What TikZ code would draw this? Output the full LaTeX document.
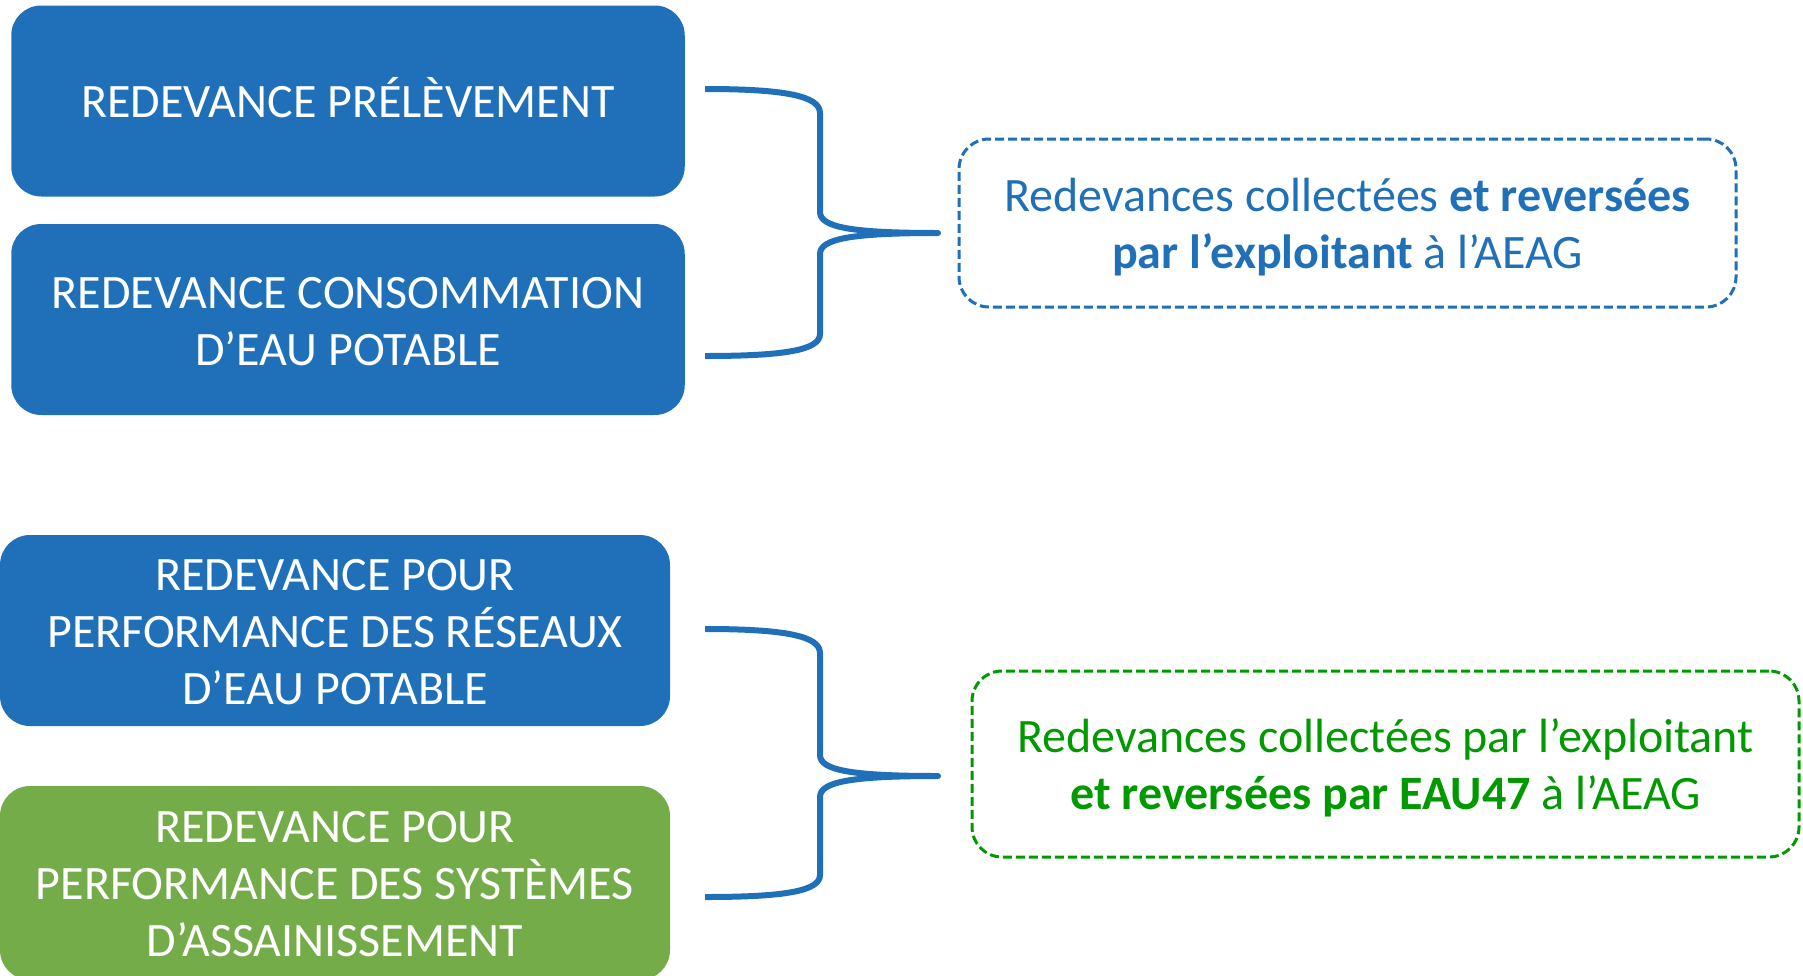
\documentclass[tikz,border=0pt]{standalone}
\usepackage{fontspec}
\setmainfont{Carlito}
\definecolor{boxblue}{HTML}{1F70B8}
\definecolor{boxgreen}{HTML}{74AC4A}
\definecolor{txtgreen}{HTML}{009A00}
\tikzset{
  solidbox/.style={rounded corners=15pt, inner sep=0pt},
  boxtext/.style={inner sep=0pt, align=center, font=\fontsize{24}{28.5}\selectfont},
  dashbox/.style={rounded corners=15pt, draw, line width=1.5pt, dash pattern=on 4.5pt off 2pt,
    fill=white, inner sep=0pt},
  brace/.style={draw=boxblue, line width=3pt, line join=round}
}
\begin{document}
\begin{tikzpicture}[x=0.5pt,y=-0.5pt]
\useasboundingbox (0,0) rectangle (1803,975);
\clip (0,0) rectangle (1803,975);
% left boxes
\node[solidbox, fill=boxblue, minimum width=336.75pt, minimum height=95.5pt] (prel) at (348,101) {};
\node[boxtext, text=white] (prel-t) at (348,97.5) {REDEVANCE PRÉLÈVEMENT};
\node[solidbox, fill=boxblue, minimum width=336.75pt, minimum height=95.5pt] (cons) at (348,319.5) {};
\node[boxtext, text=white] (cons-t) at (348,321.2) {REDEVANCE CONSOMMATION\\D’EAU POTABLE};
\node[solidbox, fill=boxblue, minimum width=335pt, minimum height=95.5pt] (res) at (335,630.5) {};
\node[boxtext, text=white] (res-t) at (335,632) {REDEVANCE POUR\\PERFORMANCE DES RÉSEAUX\\D’EAU POTABLE};
\node[solidbox, fill=boxgreen, minimum width=335pt, minimum height=97pt] (ass) at (335,883) {};
\node[boxtext, text=white] (ass-t) at (335,884) {REDEVANCE POUR\\PERFORMANCE DES SYSTÈMES\\D’ASSAINISSEMENT};
% right boxes
\node[dashbox, draw=boxblue, minimum width=388.5pt, minimum height=84pt] (rv1) at (1347.5,223) {};
\node[boxtext, text=boxblue] (rv1-t) at (1347.5,227.6)
  {Redevances collectées \textbf{et reversées}\\\textbf{par l’exploitant} à l’AEAG};
\node[dashbox, draw=txtgreen, minimum width=413.5pt, minimum height=93pt] (rv2) at (1385.5,764) {};
\node[boxtext, text=txtgreen] (rv2-t) at (1385.5,767.5)
  {Redevances collectées par l’exploitant\\\textbf{et reversées par EAU47} à l’AEAG};
% brace coordinates
\coordinate (b1a) at (705,89);
\coordinate (b1t) at (938,233);
\coordinate (b1b) at (705,356);
\coordinate (b2a) at (705,629);
\coordinate (b2t) at (938,776);
\coordinate (b2b) at (705,897);
% braces
\draw[brace] (b1a) .. controls (785,89) and (820,96) .. (820,113) -- (820,212)
  .. controls (820,227) and (850,233) .. (b1t)
  .. controls (850,233) and (820,239) .. (820,254) -- (820,334)
  .. controls (820,350) and (785,356) .. (b1b);
\draw[brace] (b2a) .. controls (785,629) and (820,636) .. (820,653) -- (820,755)
  .. controls (820,770) and (850,776) .. (b2t)
  .. controls (850,776) and (820,782) .. (820,797) -- (820,875)
  .. controls (820,891) and (785,897) .. (b2b);
\end{tikzpicture}
\end{document}
